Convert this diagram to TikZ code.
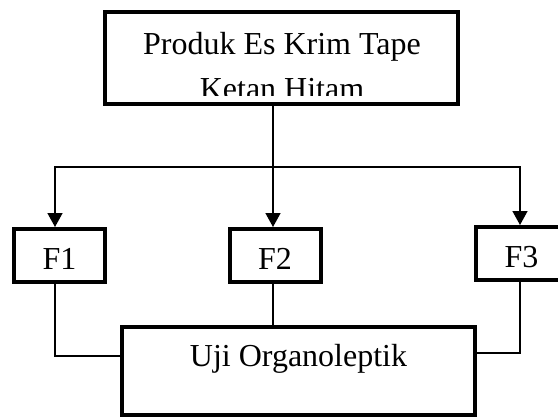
\documentclass[tikz,border=0pt]{standalone}
\usepackage{fontspec}
\setmainfont{Liberation Serif}
\usepackage{tikz}
\usetikzlibrary{arrows.meta,positioning}

\begin{document}
\begin{tikzpicture}[x=1pt,y=-1pt,
  box/.style={draw,line width=4pt,inner sep=0pt,font=\fontsize{32}{45}\selectfont},
  txt/.style={inner sep=0pt,font=\fontsize{32}{45}\selectfont},
  link/.style={line width=1.5pt},
  arr/.style={link,-{Triangle[width=15pt,length=14pt]}}]
  \useasboundingbox (0,0) rectangle (558,418);
  % boxes
  \node[box,minimum width=353pt,minimum height=92pt] (pProduk) at (281.5,58) {};
  \node[txt,anchor=base] (tProduk) at (282,54) {Produk Es Krim Tape};
  \begin{scope}
    \clip (105,12) rectangle (458,95);
    \node[txt,anchor=base] (tKetan) at (282,99) {Ketan Hitam};
  \end{scope}
  \node[box,minimum width=91pt,minimum height=53pt,text height=27pt,text depth=0pt] (pF1) at (59.5,255.5) {F1};
  \node[box,minimum width=91pt,minimum height=53pt,text height=27pt,text depth=0pt] (pF2) at (275,255.5) {F2};
  \node[box,minimum width=91pt,minimum height=53pt,text height=27pt,text depth=0pt] (pF3) at (521.5,253.5) {F3};
  \node[box,minimum width=353pt,minimum height=88pt,text height=22pt,text depth=32pt] (pUji) at (298.5,371) {Uji Organoleptik};
  % connectors
  \coordinate (split) at (273,167);
  \coordinate (b1) at (55,167);
  \coordinate (b3) at (520,167);
  \coordinate (j1) at (55,356);
  \coordinate (j3) at (520,353);
  \draw[arr] (pProduk.south -| split) -- (split |- pF2.north);
  \draw[arr] (b3) -- (b1) -- (b1 |- pF1.north);
  \draw[arr] (b1) -- (b3) -- (b3 |- pF3.north);
  \draw[link] (b1 |- pF1.south) -- (j1) -- (j1 -| pUji.west);
  \draw[link] (split |- pF2.south) -- (split |- pUji.north);
  \draw[link] (b3 |- pF3.south) -- (j3) -- (j3 -| pUji.east);
\end{tikzpicture}
\end{document}
